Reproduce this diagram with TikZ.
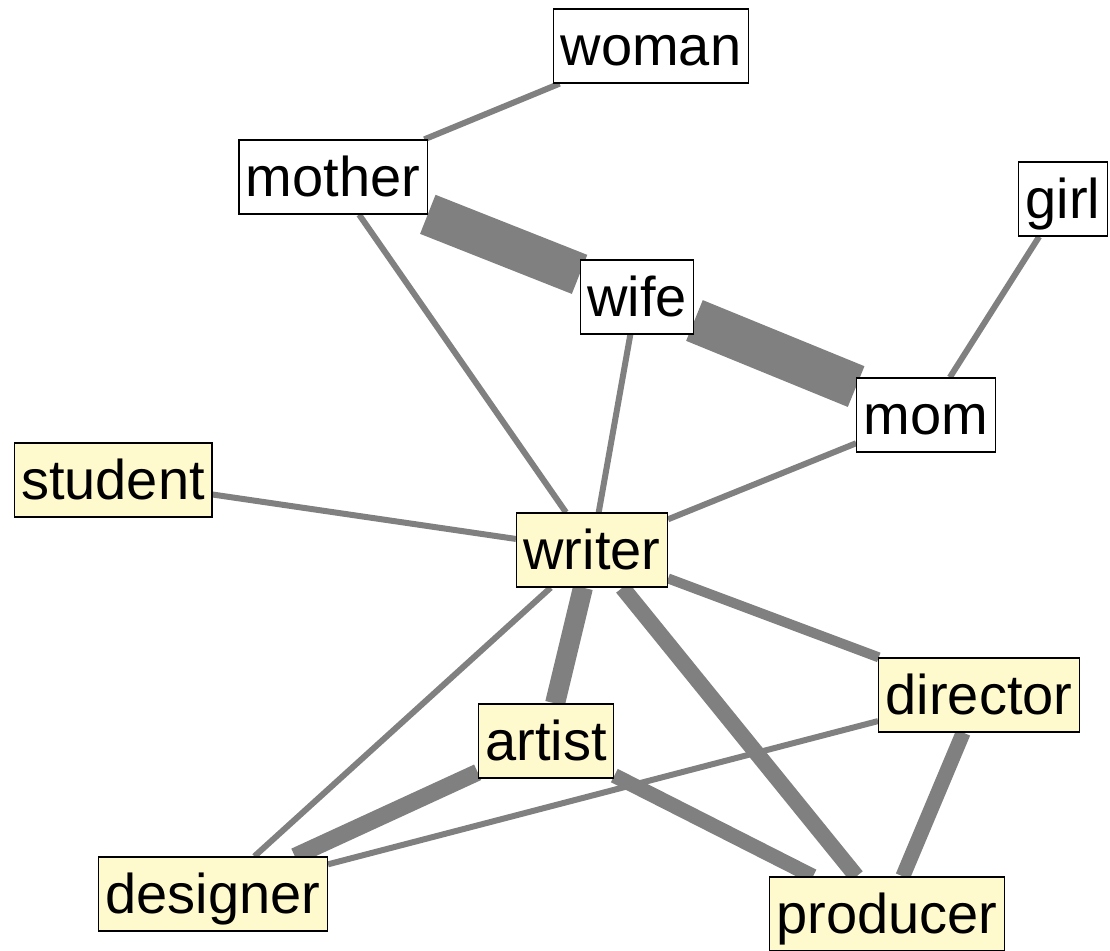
\documentclass[tikz,border=0pt]{standalone}
\usepackage{fontspec}
\setmainfont{Liberation Sans}
\usepackage{tikz}
\usetikzlibrary{backgrounds}
\definecolor{notefill}{HTML}{FFFACD}
\definecolor{linkgray}{HTML}{808080}

\begin{document}
\begin{tikzpicture}[x=1pt,y=-1pt,
			word/.style={draw=black,line width=1.3pt,fill=white,font=\fontsize{56}{56}\selectfont,
				inner xsep=7pt,inner ysep=0pt,text height=53pt,text depth=14pt,minimum height=74pt},
			job/.style={word,fill=notefill},
			link/.style={draw=linkgray,line width=6pt,line cap=butt},
			heavy/.style={link,line width=#1}
			]
			\useasboundingbox (0,0) rectangle (1110,950);
			
			%% Nodes
			\node[word] (woman) at (651,46) {woman};
			\node[word] (mother) at (333,177) {mother};
			\node[word] (girl) at (1063,199) {girl};
			\node[word] (wife) at (637,297) {wife};
			\node[word] (mom) at (926,415) {mom};
			\node[job] (student) at (113,480) {student};
			\node[job] (writer) at (592,550) {writer};
			\node[job] (director) at (979,695) {director};
			\node[job] (artist) at (546,741) {artist};
			\node[job] (designer) at (213,894) {designer};
			\node[job] (producer) at (887,914) {producer};
			
			%% Links, behind the boxes
			\begin{pgfonlayer}{background}
			\draw[link] (woman) -- (mother);
			\draw[heavy=42pt] (mother) -- (wife);
			\draw[heavy=44pt] (wife) -- (mom);
			\draw[link] (girl) -- (mom);
			\draw[link] (mother) -- (writer);
			\draw[link] (wife) -- (writer);
			\draw[link] (mom) -- (writer);
			\draw[link] (student) -- (writer);
			\draw[heavy=10pt] (writer) -- (director);
			\draw[heavy=20pt] (writer) -- (artist);
			\draw[heavy=16pt] (writer) -- (producer);
			\draw[link] (writer) -- (designer);
			\draw[link] (director) -- (designer);
			\draw[heavy=15pt] (director) -- (producer);
			\draw[heavy=17pt] (artist) -- (designer);
			\draw[heavy=15pt] (artist) -- (producer);
			\end{pgfonlayer}
			
		\end{tikzpicture}
\end{document}
